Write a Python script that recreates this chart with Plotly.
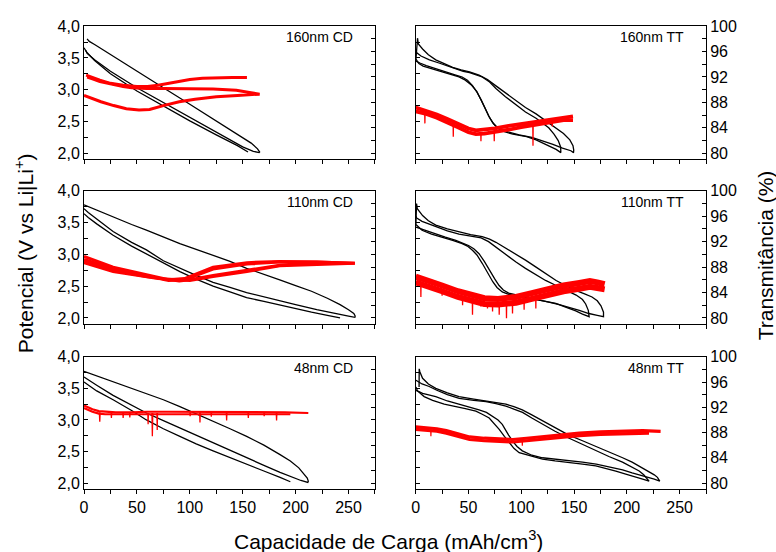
import plotly.graph_objects as go

# ================= DATA =================
# ---- Panel 1: 160nm CD  (potential V, transmittance %) ----
cd160_k1_x = [2.9, 5, 10, 25, 50, 75, 100, 125, 145, 158, 164, 166, 165.5, 160, 150, 125, 100, 75, 50, 25, 10, 3, 1.5]
cd160_k1_v = [3.80, 3.76, 3.71, 3.55, 3.29, 3.03, 2.77, 2.51, 2.30, 2.16, 2.07, 2.02, 2.01, 2.03, 2.10, 2.33, 2.56, 2.79, 3.03, 3.29, 3.47, 3.57, 3.62]
cd160_k2_x = [0, 3, 10, 25, 50, 75, 100, 125, 145, 155]
cd160_k2_v = [3.66, 3.58, 3.46, 3.25, 2.98, 2.74, 2.51, 2.29, 2.12, 2.02]
cd160_r1_x = [0, 8, 16, 28, 40, 52, 62, 75, 90, 105, 125, 145, 160, 166, 155, 144, 122, 100, 75, 59, 45, 37, 25, 15, 8, 3]
cd160_r1_t = [89.1, 88.6, 88.1, 87.5, 87.0, 86.8, 86.9, 87.5, 88.1, 88.5, 88.9, 89.1, 89.2, 89.3, 89.6, 89.9, 90.1, 90.2, 90.2, 90.2, 90.3, 90.5, 90.9, 91.3, 91.7, 92.0]
cd160_r2_x = [2, 8, 15, 25, 37, 50, 60, 70, 80, 90, 100, 112, 125, 140, 154]
cd160_r2_t = [92.3, 91.9, 91.5, 91.0, 90.7, 90.5, 90.5, 90.7, 91.0, 91.3, 91.6, 91.8, 91.9, 91.9, 91.9]

# ---- Panel 2: 160nm TT ----
tt160_k1_x = [0.2, 1.7, 2.5, 6.5, 12, 19, 27, 35, 43, 51, 60, 68, 76, 85, 95, 104, 114, 123, 133, 140, 146, 149, 149.7, 149.5,
              147, 139, 130, 120, 110, 98, 90, 82, 77, 73, 69, 66, 62, 58, 54, 49, 44, 38, 30, 19, 10, 4, 0.2]
tt160_k1_v = [3.47, 3.81, 3.72, 3.64, 3.55, 3.47, 3.41, 3.35, 3.31, 3.28, 3.23, 3.16, 3.06, 2.95, 2.83, 2.72, 2.62, 2.51, 2.40, 2.31, 2.21, 2.12, 2.05, 2.01,
              2.04, 2.08, 2.14, 2.20, 2.25, 2.29, 2.32, 2.36, 2.41, 2.48, 2.59, 2.70, 2.84, 2.96, 3.06, 3.15, 3.20, 3.23, 3.27, 3.33, 3.38, 3.42, 3.45]
tt160_k2_x = [0.2, 1, 5, 13, 22, 35, 45, 51, 57, 63, 70, 76, 85, 95, 104, 114, 120, 126, 131, 135, 137.3, 137.5,
              133, 126, 120, 114, 105, 92, 84, 78, 74, 70, 66, 62, 58, 53, 47, 41, 33, 25, 15, 7, 3, 0.2]
tt160_k2_v = [3.61, 3.58, 3.53, 3.47, 3.42, 3.34, 3.29, 3.27, 3.24, 3.20, 3.12, 3.02, 2.89, 2.76, 2.65, 2.55, 2.48, 2.40, 2.30, 2.20, 2.10, 2.01,
              2.06, 2.12, 2.17, 2.21, 2.26, 2.30, 2.34, 2.39, 2.46, 2.56, 2.70, 2.84, 2.97, 3.07, 3.15, 3.20, 3.24, 3.28, 3.33, 3.37, 3.41, 3.48]
tt160_r_x = [0, 10, 20, 30, 40, 50, 57, 65, 75, 88, 100, 110, 120, 130, 140, 149]
tt160_r1_t = [87.2, 86.7, 86.1, 85.4, 84.6, 83.9, 83.6, 83.7, 83.9, 84.3, 84.6, 84.9, 85.2, 85.4, 85.7, 85.8]
tt160_r2_t = [86.6, 86.2, 85.6, 84.9, 84.1, 83.3, 83.0, 83.1, 83.3, 83.7, 84.1, 84.4, 84.7, 85.0, 85.2, 85.2]
tt160_sp_x = [8.5, 8.7, 8.9, None, 35.4, 35.6, 35.8, None, 61.6, 61.8, 62.0, None, 74.2, 74.4, 74.6, None, 110.9, 111.1, 111.3, None, 129.2, 129.4, 129.6]
tt160_sp_t = [86.4, 84.7, 86.4, None, 84.9, 82.6, 84.9, None, 83.3, 81.9, 83.3, None, 83.6, 81.9, 83.6, None, 84.6, 81.2, 84.6, None, 85.2, 84.2, 85.2]

# ---- Panel 3: 110nm CD ----
cd110_k1_x = [0, 10, 27.5, 45, 59, 75, 90.6, 106, 122, 138, 153.7, 170, 185, 200, 215, 230, 242, 250, 255, 256.3, 256,
              250, 235, 220, 200, 185, 170, 153.7, 138, 122, 106, 90.6, 75, 59, 45, 27.5, 12, 4, 0]
cd110_k1_v = [3.78, 3.71, 3.59, 3.47, 3.38, 3.27, 3.17, 3.08, 2.99, 2.89, 2.78, 2.69, 2.60, 2.51, 2.42, 2.31, 2.21, 2.13, 2.07, 2.03, 2.01,
              2.03, 2.08, 2.13, 2.21, 2.27, 2.33, 2.40, 2.48, 2.56, 2.67, 2.78, 2.90, 3.07, 3.19, 3.36, 3.55, 3.66, 3.72]
cd110_k2_x = [0, 4, 12, 27.5, 45, 59, 75, 90.6, 106, 122, 138, 153.7, 170, 185, 200, 215, 230, 242]
cd110_k2_v = [3.64, 3.58, 3.48, 3.30, 3.13, 3.01, 2.86, 2.73, 2.61, 2.50, 2.41, 2.32, 2.26, 2.20, 2.14, 2.09, 2.04, 2.00]
cd110_r1_x = [0, 27.5, 59, 80, 95, 110, 122, 154, 185, 220, 256, 220, 185, 154, 122, 100, 90, 70, 59, 27.5, 0]
cd110_r1_t = [89.7, 88.0, 86.8, 86.0, 86.2, 87.2, 88.0, 88.7, 88.9, 88.8, 88.6, 88.6, 88.3, 87.5, 86.7, 86.0, 85.8, 86.3, 86.5, 87.5, 88.9]
cd110_r2_x = [0, 27.5, 59, 80, 95, 110, 122, 154, 185, 220, 256, 185, 154, 122, 100, 70, 27.5, 0]
cd110_r2_t = [89.2, 87.8, 86.6, 85.9, 86.0, 86.9, 87.7, 88.5, 88.8, 88.8, 88.6, 88.2, 87.3, 86.5, 85.9, 86.2, 87.3, 88.7]

# ---- Panel 4: 110nm TT ----
tt110_k1_x = [0.2, 0.8, 1.5, 6.5, 12, 19, 30, 41, 52, 63, 70, 76, 85, 95, 104, 114, 123, 133, 142, 152, 160, 167, 172, 175.5, 177.9, 177.9,
              172, 164, 155, 145, 136, 126, 115, 104, 95, 88, 83, 79, 75, 72, 69, 65, 60, 55, 50, 44, 38, 28, 19, 10, 4, 0.2]
tt110_k1_v = [3.47, 3.80, 3.72, 3.61, 3.53, 3.46, 3.40, 3.35, 3.31, 3.28, 3.24, 3.19, 3.10, 3.01, 2.91, 2.80, 2.70, 2.59, 2.51, 2.43, 2.38, 2.33, 2.27, 2.19, 2.09, 2.02,
              2.04, 2.07, 2.12, 2.17, 2.21, 2.25, 2.29, 2.33, 2.36, 2.39, 2.44, 2.51, 2.61, 2.70, 2.78, 2.89, 3.01, 3.09, 3.14, 3.18, 3.22, 3.27, 3.32, 3.37, 3.40, 3.43]
tt110_k2_x = [0.2, 1, 6, 12.8, 20, 30, 41, 52, 62, 69, 76, 85, 95, 104, 114, 123, 133, 142, 152, 158, 161, 163.5, 164.3,
              158, 151.6, 142, 132.7, 123, 113.8, 104, 95, 88, 82, 77, 73, 70, 66, 63, 58, 54, 49, 44, 35, 25, 15, 6, 0.2]
tt110_k2_v = [3.60, 3.57, 3.52, 3.48, 3.43, 3.37, 3.32, 3.29, 3.26, 3.20, 3.11, 3.00, 2.88, 2.78, 2.68, 2.59, 2.51, 2.44, 2.36, 2.29, 2.22, 2.12, 2.02,
              2.06, 2.11, 2.17, 2.23, 2.26, 2.29, 2.32, 2.34, 2.37, 2.41, 2.48, 2.57, 2.66, 2.78, 2.86, 2.99, 3.06, 3.13, 3.17, 3.22, 3.27, 3.32, 3.38, 3.47]
tt110_r_x = [0, 12, 25, 40, 55, 65, 78, 95, 110, 125, 140, 155, 165, 172, 179]
tt110_r1_t = [86.5, 85.9, 85.1, 84.2, 83.4, 83.1, 83.0, 83.3, 83.9, 84.6, 85.1, 85.5, 85.8, 85.6, 85.3]
tt110_r2_t = [85.6, 85.0, 84.2, 83.3, 82.5, 82.2, 82.1, 82.4, 83.0, 83.7, 84.2, 84.6, 84.9, 84.7, 84.5]
tt110_sp_x = [4.7, 4.9, 5.1, None, 24.8, 25, 25.2, None, 44.2, 44.4, 44.6, None, 53.6, 53.8, 54.0, None, 61.5, 61.7, 61.9, None,
              67.8, 68, 68.2, None, 72.6, 72.8, 73.0, None, 78.9, 79.1, 79.3, None, 85.8, 86.0, 86.2, None, 91.5, 91.7, 91.9, None,
              102.5, 102.7, 102.9, None, 113.6, 113.8, 114.0]
tt110_sp_t = [85.7, 83.3, 85.7, None, 84.6, 83.5, 84.6, None, 83.4, 82.0, 83.4, None, 83.0, 80.5, 83.0, None, 82.7, 81.8, 82.7, None,
              82.5, 81.5, 82.5, None, 82.5, 81.0, 82.5, None, 82.5, 80.5, 82.5, None, 82.6, 79.95, 82.6, None, 82.7, 80.7, 82.7, None,
              83.1, 81.3, 83.1, None, 83.6, 81.5, 83.6]

# ---- Panel 5: 48nm CD ----
cd48_k1_x = [0, 10, 27.5, 45, 59, 75, 90.6, 106, 122, 138, 153.7, 170, 185.3, 195, 203, 208, 211, 212, 211.5,
             205, 195, 185.3, 170, 153.7, 138, 122, 106, 90.6, 75, 59, 45, 27.5, 12, 4, 0]
cd48_k1_v = [3.77, 3.71, 3.60, 3.50, 3.42, 3.32, 3.21, 3.10, 2.98, 2.86, 2.74, 2.60, 2.45, 2.35, 2.24, 2.15, 2.08, 2.03, 2.01,
             2.04, 2.10, 2.17, 2.28, 2.40, 2.52, 2.64, 2.75, 2.87, 2.99, 3.11, 3.23, 3.39, 3.55, 3.64, 3.68]
cd48_k2_x = [0, 4, 12, 27.5, 45, 59, 75, 90.6, 106, 122, 138, 153.7, 170, 185.3, 191, 195]
cd48_k2_v = [3.60, 3.55, 3.46, 3.32, 3.15, 3.00, 2.86, 2.74, 2.62, 2.51, 2.40, 2.30, 2.19, 2.09, 2.05, 2.02]
cd48_r1_x = [0, 4, 8, 14, 20, 30, 45, 60, 80, 100, 130, 160, 190, 212]
cd48_r1_t = [92.3, 92.0, 91.7, 91.4, 91.3, 91.2, 91.2, 91.3, 91.3, 91.3, 91.3, 91.3, 91.2, 91.1]
cd48_r2_x = [0, 4, 8, 14, 20, 30, 45, 60, 80, 100, 130, 160, 190, 195]
cd48_r2_t = [91.9, 91.6, 91.3, 91.0, 90.9, 90.9, 90.9, 91.0, 91.0, 91.0, 91.0, 91.0, 90.9, 90.9]
cd48_sp_x = [14.5, 14.9, 15.3, None, 25.6, 25.9, 26.2, None, 36.7, 37, 37.3, None, 43, 43.3, 43.6, None, 60.3, 60.6, 60.9, None,
             64.2, 64.6, 65.0, None, 68.9, 69.2, 69.5, None, 100, 100.3, 100.6, None, 109.3, 109.6, 109.9, None, 120, 120.3, 120.6, None,
             134.5, 134.8, 135.1, None, 155, 155.3, 155.6, None, 170, 170.3, 170.6, None, 181.7, 182, 182.3]
cd48_sp_t = [91.2, 89.7, 91.2, None, 91.1, 90.3, 91.1, None, 91.1, 90.3, 91.1, None, 91.1, 90.4, 91.1, None, 91.1, 89.3, 91.1, None,
             91.1, 87.4, 91.1, None, 91.1, 88.4, 91.1, None, 91.2, 90.6, 91.2, None, 91.2, 89.6, 91.2, None, 91.2, 90.5, 91.2, None,
             91.2, 89.9, 91.2, None, 91.2, 90.3, 91.2, None, 91.2, 90.6, 91.2, None, 91.1, 89.9, 91.1]

# ---- Panel 6: 48nm TT ----
tt48_k1_x = [3.2, 3.3, 4, 6.5, 12, 19, 30, 41, 55, 66.5, 76, 85.4, 93, 101, 110, 120, 132, 145, 158, 171, 183, 196, 205, 215, 221, 226, 229, 231, 231.2,
             226, 215, 205, 196, 183, 171, 158, 145, 132, 120, 110, 101, 96, 92, 88, 85, 82, 78, 73, 67, 60, 51, 41, 30, 19, 12, 6.5, 3, 0.2]
tt48_k1_v = [3.52, 3.81, 3.76, 3.66, 3.57, 3.50, 3.43, 3.37, 3.33, 3.30, 3.28, 3.25, 3.21, 3.16, 3.08, 2.99, 2.88, 2.76, 2.67, 2.58, 2.49, 2.40, 2.33, 2.24, 2.18, 2.13, 2.09, 2.05, 2.03,
             2.06, 2.11, 2.16, 2.21, 2.26, 2.30, 2.33, 2.35, 2.37, 2.40, 2.44, 2.51, 2.58, 2.66, 2.76, 2.85, 2.93, 3.00, 3.06, 3.12, 3.16, 3.20, 3.24, 3.30, 3.37, 3.40, 3.42, 3.45, 3.47]
tt48_k2_x = [0.2, 3, 6, 12.8, 20, 30, 41.2, 55, 66.5, 76, 85.4, 93, 101.2, 110, 120.1, 132, 145.4, 158, 170.6, 183, 195.9, 204, 211.7, 216, 219.5, 221.1,
             215, 208.5, 199, 189.6, 180, 170.6, 158, 145.4, 132, 120.1, 108, 98, 93, 88.5, 84, 79.1, 74, 69.6, 63, 57, 47, 38, 27, 16, 8, 1.7, 0.2]
tt48_k2_v = [3.63, 3.60, 3.57, 3.53, 3.47, 3.40, 3.34, 3.31, 3.29, 3.26, 3.22, 3.17, 3.12, 3.03, 2.93, 2.82, 2.71, 2.61, 2.51, 2.42, 2.33, 2.26, 2.19, 2.13, 2.06, 2.03,
             2.06, 2.09, 2.14, 2.19, 2.23, 2.27, 2.30, 2.32, 2.35, 2.38, 2.43, 2.48, 2.55, 2.64, 2.74, 2.85, 2.95, 3.03, 3.09, 3.14, 3.18, 3.21, 3.25, 3.31, 3.37, 3.46, 3.52]
tt48_r1_x = [0, 10, 20, 29, 40, 51, 65, 80, 92, 105, 123, 140, 155, 175, 195, 215, 232]
tt48_r1_t = [88.9, 88.8, 88.6, 88.3, 87.8, 87.3, 87.1, 87.0, 86.9, 87.1, 87.4, 87.7, 87.9, 88.1, 88.2, 88.3, 88.2]
tt48_r2_x = [0, 10, 20, 29, 40, 51, 65, 80, 92, 105, 123, 140, 155, 175, 195, 215, 221]
tt48_r2_t = [88.5, 88.4, 88.2, 87.9, 87.4, 86.9, 86.7, 86.6, 86.5, 86.7, 87.0, 87.3, 87.5, 87.7, 87.8, 87.9, 87.9]
tt48_sp_x = [14.2, 14.4, 14.6, None, 100.8, 101, 101.2]
tt48_sp_t = [88.5, 87.4, 88.5, None, 86.8, 85.9, 86.8]

panel_labels = ["160nm CD", "160nm TT", "110nm CD", "110nm TT", "48nm CD", "48nm TT"]
x_ticks = [0, 50, 100, 150, 200, 250]

# ================= FIGURE =================
FONT = "Arial, Liberation Sans, sans-serif"
BLACK = "#000000"
RED = "#ff0000"

fig = go.Figure()

def ax_ids(p):
    xs = "x" if p == 1 else f"x{p}"
    ys = "y" if p == 1 else f"y{p}"
    yt = f"y{p + 6}"
    return xs, ys, yt

def add_black(p, x, v):
    xs, ys, _ = ax_ids(p)
    fig.add_trace(go.Scatter(x=x, y=v, mode="lines", xaxis=xs, yaxis=ys,
                             line=dict(color=BLACK, width=1.3), showlegend=False, hoverinfo="skip"))

def add_red(p, x, t, w):
    xs, _, yt = ax_ids(p)
    fig.add_trace(go.Scatter(x=x, y=t, mode="lines", xaxis=xs, yaxis=yt,
                             line=dict(color=RED, width=w), showlegend=False, hoverinfo="skip",
                             connectgaps=False))

# panel 1
add_black(1, cd160_k1_x, cd160_k1_v); add_black(1, cd160_k2_x, cd160_k2_v)
add_red(1, cd160_r1_x, cd160_r1_t, 3); add_red(1, cd160_r2_x, cd160_r2_t, 3)
# panel 2
add_black(2, tt160_k1_x, tt160_k1_v); add_black(2, tt160_k2_x, tt160_k2_v)
add_red(2, tt160_r_x, tt160_r1_t, 3.8); add_red(2, tt160_r_x, tt160_r2_t, 3.8); add_red(2, tt160_sp_x, tt160_sp_t, 1.3)
# panel 3
add_black(3, cd110_k1_x, cd110_k1_v); add_black(3, cd110_k2_x, cd110_k2_v)
add_red(3, cd110_r1_x, cd110_r1_t, 3); add_red(3, cd110_r2_x, cd110_r2_t, 3)
# panel 4
add_black(4, tt110_k1_x, tt110_k1_v); add_black(4, tt110_k2_x, tt110_k2_v)
add_red(4, tt110_r_x, tt110_r1_t, 6); add_red(4, tt110_r_x, tt110_r2_t, 6); add_red(4, tt110_sp_x, tt110_sp_t, 1.3)
# panel 5
add_black(5, cd48_k1_x, cd48_k1_v); add_black(5, cd48_k2_x, cd48_k2_v)
add_red(5, cd48_r1_x, cd48_r1_t, 2.2); add_red(5, cd48_r2_x, cd48_r2_t, 2.2); add_red(5, cd48_sp_x, cd48_sp_t, 1.3)
# panel 6
add_black(6, tt48_k1_x, tt48_k1_v); add_black(6, tt48_k2_x, tt48_k2_v)
add_red(6, tt48_r1_x, tt48_r1_t, 3.2); add_red(6, tt48_r2_x, tt48_r2_t, 3.2); add_red(6, tt48_sp_x, tt48_sp_t, 1.2)

col_dom = [[0.0, 0.4678], [0.5333, 1.0]]
row_dom = [[0.7121, 1.0], [0.3564, 0.6443], [0.0, 0.2857]]
tickfont = dict(family=FONT, size=16, color=BLACK)
V_RANGE = [1.905, 4.002]
T_RANGE = [79.05, 100.02]

layout = dict(
    width=776, height=552,
    margin=dict(l=84, r=70, t=26, b=63),
    paper_bgcolor="white", plot_bgcolor="white",
    separators=",.",
    font=dict(family=FONT, size=16, color=BLACK),
    showlegend=False,
)

annotations = []
for p in range(1, 7):
    row = (p - 1) // 2
    col = (p - 1) % 2
    xs, ys, yt = ax_ids(p)
    xkey = "xaxis" if p == 1 else f"xaxis{p}"
    ykey = "yaxis" if p == 1 else f"yaxis{p}"
    tkey = f"yaxis{p + 6}"
    layout[xkey] = dict(
        domain=col_dom[col], anchor=ys, range=[0, 275],
        tickvals=x_ticks, ticks="outside", ticklen=4, tickwidth=1, tickcolor=BLACK,
        minor=dict(dtick=25, tick0=0, ticks="outside", ticklen=4, tickwidth=1, tickcolor=BLACK),
        showline=True, linecolor=BLACK, linewidth=1, mirror=True,
        showgrid=False, zeroline=False, showticklabels=(row == 2), tickfont=tickfont,
    )
    if col == 0:
        layout[ykey] = dict(
            domain=row_dom[row], anchor=xs, range=V_RANGE,
            tick0=0, dtick=0.5, tickformat=".1f", ticks="inside", ticklen=4, tickwidth=1, tickcolor=BLACK,
            minor=dict(dtick=0.25, tick0=0, ticks="inside", ticklen=4, tickwidth=1, tickcolor=BLACK),
            showline=True, linecolor=BLACK, linewidth=1,
            showgrid=False, zeroline=False, tickfont=tickfont,
        )
        layout[tkey] = dict(
            domain=row_dom[row], anchor=xs, overlaying=ys, side="right", range=T_RANGE,
            tick0=0, dtick=2, ticks="inside", ticklen=4, tickwidth=1, tickcolor=BLACK,
            showticklabels=False, showline=True, linecolor=BLACK, linewidth=1,
            showgrid=False, zeroline=False,
        )
    else:
        layout[ykey] = dict(
            domain=row_dom[row], anchor=xs, range=V_RANGE,
            tick0=0, dtick=0.25, ticks="inside", ticklen=4, tickwidth=1, tickcolor=BLACK,
            showticklabels=False, showline=True, linecolor=BLACK, linewidth=1,
            showgrid=False, zeroline=False,
        )
        layout[tkey] = dict(
            domain=row_dom[row], anchor=xs, overlaying=ys, side="right", range=T_RANGE,
            tick0=80, dtick=4, ticks="inside", ticklen=4, tickwidth=1, tickcolor=BLACK,
            minor=dict(dtick=2, tick0=80, ticks="inside", ticklen=4, tickwidth=1, tickcolor=BLACK),
            showline=True, linecolor=BLACK, linewidth=1,
            showgrid=False, zeroline=False, tickfont=tickfont,
        )
    annotations.append(dict(
        text=panel_labels[p - 1], xref=f"{xs} domain", yref=f"{ys} domain",
        x=0.932, y=0.918, xanchor="right", yanchor="middle", showarrow=False,
        font=dict(family=FONT, size=14, color=BLACK),
    ))

annotations.append(dict(
    text="Potencial (V vs Li|Li<sup>+</sup>)", xref="paper", yref="paper",
    x=-0.096, y=0.51, xanchor="center", yanchor="middle", textangle=-90, showarrow=False,
    font=dict(family=FONT, size=21, color=BLACK),
))
annotations.append(dict(
    text="Transmitância (%)", xref="paper", yref="paper",
    x=1.095, y=0.505, xanchor="center", yanchor="middle", textangle=-90, showarrow=False,
    font=dict(family=FONT, size=21, color=BLACK),
))
annotations.append(dict(
    text="Capacidade de Carga (mAh/cm<sup>3</sup>)", xref="paper", yref="paper",
    x=0.49, y=-0.11, xanchor="center", yanchor="middle", showarrow=False,
    font=dict(family=FONT, size=21, color=BLACK),
))
layout["annotations"] = annotations

fig.update_layout(**layout)
fig.write_html("out.html",
               config={"displayModeBar": False},
               post_script="document.body.style.margin='0';document.body.style.overflow='hidden';")
